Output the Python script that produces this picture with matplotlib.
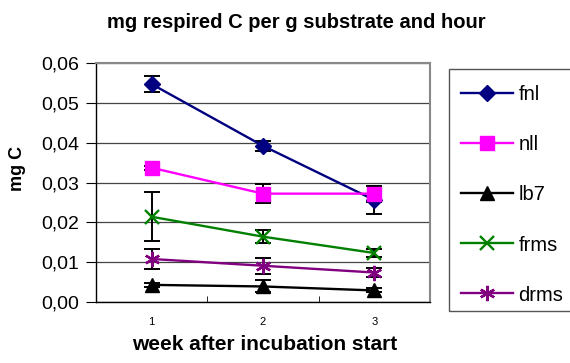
import numpy as np
import matplotlib.pyplot as plt
from matplotlib.patches import Rectangle
from matplotlib.ticker import FuncFormatter

plt.rcParams['font.family'] = ['Liberation Sans', 'DejaVu Sans']

weeks = [1, 2, 3]
week_labels = ['1', '2', '3']

fnl = [0.0547, 0.0392, 0.0256]
fnl_err = [0.0021, 0.0013, 0.0035]
nll = [0.0337, 0.0272, 0.0272]
nll_err = [0.0005, 0.0023, 0.0020]
lb7 = [0.0043, 0.0039, 0.0029]
lb7_err = [0.0005, 0.0015, 0.0005]
frms = [0.0214, 0.0164, 0.0123]
frms_err = [0.0062, 0.0017, 0.0010]
drms = [0.0108, 0.0091, 0.0074]
drms_err = [0.0025, 0.0020, 0.0012]

series = [
    ('fnl', fnl, fnl_err, '#000080', 'D', 8.5),
    ('nll', nll, nll_err, '#ff00ff', 's', 9.5),
    ('lb7', lb7, lb7_err, '#000000', '^', 10),
    ('frms', frms, frms_err, '#008000', 'x', 10),
    ('drms', drms, drms_err, '#800080', (6, 2, 0), 11),
]

W, H = 570, 363
fig = plt.figure(figsize=(5.7, 3.63), dpi=100)
ax = fig.add_axes([96 / W, 1 - 302 / H, 334 / W, 239 / H])

x = np.arange(len(weeks))
for name, vals, err, col, mk, ms in series:
    ax.errorbar(x, vals, yerr=err, fmt='none', ecolor='black', elinewidth=1.4,
                capsize=5.5, capthick=1.4, zorder=3)
for name, vals, err, col, mk, ms in series:
    ax.plot(x, vals, color=col, lw=1.7, marker=mk, markersize=ms,
            markeredgewidth=1.7 if mk in ('x', (6, 2, 0)) else 1,
            markeredgecolor=col, markerfacecolor=col, label=name, zorder=4)

ax.set_xlim(-0.5, 2.5)
ax.set_ylim(0, 0.06)
ax.set_yticks(np.arange(0, 0.061, 0.01))
ax.yaxis.set_major_formatter(FuncFormatter(lambda v, p: f'{v:.2f}'.replace('.', ',')))
ax.set_xticks(x)
ax.set_xticklabels(week_labels, fontsize=8)
ax.set_xticks([0.5, 1.5], minor=True)
ax.tick_params(axis='x', which='major', length=0, pad=11)
ax.tick_params(axis='x', which='minor', length=4, direction='in')
ax.tick_params(axis='y', labelsize=14, length=7, direction='out', pad=5)
ax.grid(axis='y', color='#444444', lw=0.9)
ax.set_axisbelow(True)
for side in ('top', 'right'):
    ax.spines[side].set_color('#888888')
    ax.spines[side].set_linewidth(1.5)
for side in ('left', 'bottom'):
    ax.spines[side].set_color('black')
    ax.spines[side].set_linewidth(1)

fig.text(18 / W, 1 - 168 / H, 'mg C', rotation=90, ha='center', va='center',
         fontsize=13, fontweight='bold')
fig.text(265 / W, 1 - 344 / H, 'week after incubation start', ha='center', va='center',
         fontsize=15, fontweight='bold')
fig.text(296 / W, 1 - 22 / H, 'mg respired C per g substrate and hour',
         ha='center', va='center', fontsize=14.5, fontweight='bold')

# legend box drawn separately so the entries can sit freely inside it
fig.patches.append(Rectangle((449 / W, 1 - 311 / H), 130 / W, 242 / H,
                             transform=fig.transFigure, fill=False,
                             edgecolor='#555555', lw=1))
handles, labels = ax.get_legend_handles_labels()
fig.legend(handles, labels, loc='center left', bbox_to_anchor=(453 / W, 1 - 195 / H),
           frameon=False, fontsize=14.5, labelspacing=1.54,
           handlelength=2.6, handletextpad=0.25, borderpad=0.4, borderaxespad=0)

fig.savefig('out.png', dpi=100)
